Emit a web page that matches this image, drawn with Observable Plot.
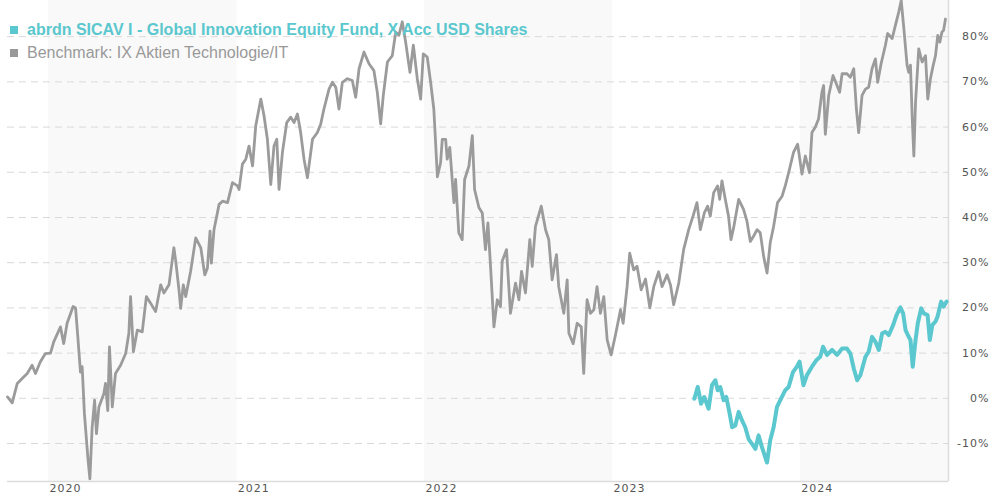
<!DOCTYPE html>
<html><head><meta charset="utf-8">
<script src="https://cdn.jsdelivr.net/npm/d3@7"></script>
<script src="https://cdn.jsdelivr.net/npm/@observablehq/plot@0.6"></script>
<style>
body{margin:0;background:#fff;}
#wrap{position:relative;width:990px;height:500px;overflow:hidden;}
.legend{position:absolute;left:10px;font-family:"Liberation Sans",Arial,sans-serif;font-size:16px;line-height:18px;white-space:nowrap;}
.legend .sq{display:inline-block;width:8px;height:8px;margin-right:9px;vertical-align:1px;}
.chart text{letter-spacing:1px;}
</style></head><body>
<div id="wrap"></div>
<script>
// Series names
const seriesNames = ["abrdn SICAV I - Global Innovation Equity Fund, X Acc USD Shares", "Benchmark: IX Aktien Technologie/IT"];
const seriesColors = ["#5bc7ce", "#9b9b9b"];
// Benchmark: time (decimal years) and cumulative performance (%)
const benchT = [2019.782,2019.807,2019.834,2019.860,2019.887,2019.913,2019.931,2019.957,2019.984,2020.011,2020.028,2020.064,2020.081,2020.099,2020.131,2020.144,2020.156,2020.170,2020.179,2020.191,2020.209,2020.220,2020.232,2020.245,2020.255,2020.268,2020.294,2020.303,2020.315,2020.324,2020.339,2020.356,2020.383,2020.410,2020.427,2020.436,2020.451,2020.472,2020.498,2020.520,2020.543,2020.569,2020.596,2020.613,2020.640,2020.666,2020.676,2020.693,2020.702,2020.716,2020.729,2020.755,2020.782,2020.809,2020.830,2020.844,2020.858,2020.865,2020.879,2020.906,2020.924,2020.951,2020.977,2021.004,2021.012,2021.030,2021.048,2021.065,2021.084,2021.101,2021.128,2021.145,2021.163,2021.181,2021.198,2021.213,2021.225,2021.243,2021.266,2021.287,2021.305,2021.323,2021.340,2021.358,2021.376,2021.403,2021.429,2021.447,2021.464,2021.491,2021.509,2021.527,2021.544,2021.562,2021.589,2021.615,2021.633,2021.651,2021.677,2021.704,2021.730,2021.748,2021.766,2021.780,2021.802,2021.828,2021.846,2021.863,2021.881,2021.899,2021.922,2021.940,2021.961,2021.979,2021.993,2022.014,2022.032,2022.049,2022.068,2022.085,2022.094,2022.112,2022.120,2022.134,2022.156,2022.165,2022.182,2022.200,2022.213,2022.236,2022.254,2022.266,2022.289,2022.307,2022.324,2022.337,2022.351,2022.369,2022.387,2022.404,2022.413,2022.436,2022.457,2022.484,2022.502,2022.516,2022.537,2022.560,2022.573,2022.590,2022.621,2022.644,2022.661,2022.679,2022.702,2022.714,2022.741,2022.759,2022.768,2022.791,2022.812,2022.834,2022.847,2022.865,2022.883,2022.901,2022.918,2022.936,2022.954,2022.972,2022.993,2023.016,2023.043,2023.057,2023.078,2023.092,2023.113,2023.131,2023.153,2023.176,2023.199,2023.220,2023.246,2023.264,2023.291,2023.309,2023.326,2023.353,2023.379,2023.406,2023.429,2023.450,2023.468,2023.489,2023.507,2023.521,2023.539,2023.560,2023.571,2023.583,2023.601,2023.618,2023.631,2023.645,2023.672,2023.698,2023.716,2023.734,2023.752,2023.770,2023.787,2023.805,2023.823,2023.840,2023.858,2023.879,2023.903,2023.920,2023.938,2023.964,2023.986,2024.009,2024.027,2024.049,2024.062,2024.080,2024.097,2024.115,2024.124,2024.133,2024.151,2024.174,2024.195,2024.209,2024.222,2024.248,2024.266,2024.284,2024.298,2024.310,2024.328,2024.346,2024.363,2024.381,2024.399,2024.411,2024.429,2024.452,2024.464,2024.488,2024.505,2024.523,2024.536,2024.550,2024.567,2024.576,2024.585,2024.594,2024.603,2024.612,2024.629,2024.647,2024.665,2024.677,2024.691,2024.706,2024.718,2024.730,2024.741,2024.752,2024.761,2024.771];
const benchV = [0.3,-1.0,3.3,4.4,5.5,7.3,5.5,8.1,9.9,10,12.5,15.8,12.1,16.6,20.3,20,13.6,5.8,7.0,-3.4,-13,-17.8,-6.4,-0.4,-7.8,-1.9,1.0,3.3,-2.7,11.4,-1.9,5.5,7.3,9.9,14.4,22.5,10.3,15.1,14.7,22.5,21,19.2,25.1,23.3,25.1,33.3,30.3,24,19.9,25.1,22.5,28.1,35.5,33.3,27.3,28.8,37,29.9,37.3,42.9,43.6,43.3,47.7,47,46.2,51.8,52.9,55.8,51.4,60.3,66.2,62.5,57.3,47.3,55.8,57.3,46.2,54.4,61,62.2,61,62.9,58.8,52.9,48.8,57.3,58.8,60.7,64,68.4,69.9,68.8,64,69.9,70.7,70.3,66.6,72.9,76.6,74,72.5,67.7,60.7,67,74.4,75.8,81,80.3,83.3,78.8,72.1,78.1,70.7,66.2,76.2,75.5,69.9,64,49,52.1,57.3,57.3,52.9,55.5,43.3,48.4,36.6,35.1,48.4,51.4,58.1,46.2,42.2,41,32.9,38.8,29.2,15.8,21.8,20.3,30.3,32.9,18.8,25.5,21.8,28.1,23.3,35.1,29.2,38,42.5,37.3,35.1,26.2,31.8,24.7,18.8,26.2,14.4,12.1,16.6,15.8,5.5,21.8,18.8,19.6,24.7,18.8,22.5,12.9,9.6,14,19.6,16.6,24.7,32.1,28.4,29.2,24,26.4,20,24.7,28,24.7,27.3,25.1,20.7,25.5,32.9,37.3,40.3,43.3,37.3,41,42.5,40.3,45.5,47,44,48.1,44,40.3,35.1,37.7,44,41.8,39.2,34.7,35.9,37.3,36.6,31.4,27.7,34.4,38,43.3,44.7,47,49.9,54.4,56.2,49.6,53.6,49.9,58.8,60,61.8,67.7,69.2,58.4,67,71.4,69.2,67.7,71.8,71.8,71,72.9,64,58.8,67,68.4,68.8,72.9,75.1,69.9,74,78.1,80.7,79.6,82.5,85.5,88,81.8,73.7,72.1,73.7,62.5,53.6,65.5,77.3,74.4,75.8,66.2,70.7,73.7,75.8,80.3,78.8,81,81.4,83.9];
// Fund: time (decimal years) and cumulative performance (%)
const fundT = [2023.436,2023.454,2023.472,2023.489,2023.512,2023.530,2023.548,2023.560,2023.574,2023.592,2023.606,2023.624,2023.637,2023.654,2023.672,2023.690,2023.707,2023.725,2023.743,2023.761,2023.778,2023.796,2023.823,2023.840,2023.858,2023.876,2023.897,2023.920,2023.938,2023.961,2023.982,2023.996,2024.017,2024.035,2024.062,2024.085,2024.106,2024.121,2024.142,2024.169,2024.195,2024.222,2024.248,2024.266,2024.284,2024.302,2024.319,2024.346,2024.363,2024.381,2024.399,2024.417,2024.435,2024.452,2024.470,2024.493,2024.511,2024.532,2024.546,2024.559,2024.571,2024.585,2024.597,2024.612,2024.624,2024.642,2024.656,2024.676,2024.688,2024.701,2024.718,2024.729,2024.748,2024.761,2024.777];
const fundV = [-0.1,2.5,-1.2,0.3,-2.3,2.9,4,1.8,2.5,-0.4,0.3,-3.4,-6.4,-6,-3,-4.9,-6.4,-9,-10.1,-11.2,-8.2,-10.8,-14.2,-9.3,-6.4,-1.9,-0.1,1.8,2.5,5.8,7,8.1,2.9,5.1,7,8.4,9.2,11.4,9.6,10.7,9.6,11,11,9.9,6.6,4,5.1,9.2,10.3,13.6,12.5,10.7,14.4,14.7,14,16.2,18.4,20.1,18.8,15.1,14,12.9,7,12.9,16.6,19.9,18.8,18.4,12.9,16.2,17,18.1,21.4,20.3,21.4];
// Axis ticks
const yTicks = [-10,0,10,20,30,40,50,60,70,80];
const yearTicks = [2020,2021,2022,2023,2024];
const shadedYears = [2020,2022,2024];
const tStart = 2019.782, tEnd = 2024.787;
const yMin = -18.4, yMax = 88.0;

const toDate = t => { const y = Math.floor(t); const a = Date.UTC(y,0,1), b = Date.UTC(y+1,0,1); return new Date(a + (t - y) * (b - a)); };
const bench = benchT.map((t,i) => ({date: toDate(t), value: benchV[i]}));
const fund = fundT.map((t,i) => ({date: toDate(t), value: fundV[i]}));
const xDomain = [toDate(tStart), toDate(tEnd)];
const bands = shadedYears.map(y => ({x1: toDate(y), x2: toDate(Math.min(y + 1, tEnd))}));

const chart = Plot.plot({
  width: 990, height: 500,
  marginLeft: 7, marginRight: 42, marginTop: 0, marginBottom: 19,
  className: "chart",
  style: {fontFamily: "DejaVu Sans, Verdana, sans-serif", fontSize: "11px", background: "#fff"},
  x: {type: "utc", domain: xDomain},
  y: {domain: [yMin, yMax]},
  marks: [
    Plot.rect(bands, {x1: "x1", x2: "x2", fill: "#f9f9f9"}),
    Plot.gridY(yTicks, {stroke: "#d9d9d9", strokeOpacity: 1, strokeDasharray: "7,5"}),
    Plot.ruleY([yMin], {stroke: "#dcdcdc", strokeWidth: 1.5}),
    Plot.ruleX([xDomain[1]], {stroke: "#dcdcdc", strokeWidth: 1.5}),
    Plot.line(bench, {x: "date", y: "value", stroke: seriesColors[1], strokeWidth: 2.8, curve: "linear"}),
    Plot.line(fund, {x: "date", y: "value", stroke: seriesColors[0], strokeWidth: 4, curve: "linear"}),
    Plot.axisX(yearTicks.map(y => toDate(y)), {anchor: "bottom", tickSize: 0, tickPadding: 3, textAnchor: "start", dx: 1, tickFormat: d => String(d.getUTCFullYear()), fill: "#555", label: null}),
    Plot.axisY(yTicks, {anchor: "right", tickSize: 0, tickPadding: 41, textAnchor: "end", tickFormat: d => d + "%", fill: "#555", label: null})
  ]
});
const wrap = document.getElementById("wrap");
wrap.appendChild(chart);
seriesNames.forEach((name, i) => {
  const d = document.createElement("div");
  d.className = "legend";
  d.style.top = (i === 0 ? 21 : 44) + "px";
  d.style.color = i === 0 ? seriesColors[0] : "#999";
  d.style.fontWeight = i === 0 ? "bold" : "normal";
  d.innerHTML = '<span class="sq" style="background:' + (i === 0 ? seriesColors[0] : "#999") + '"></span>' + name;
  wrap.appendChild(d);
});
</script>
</body></html>
